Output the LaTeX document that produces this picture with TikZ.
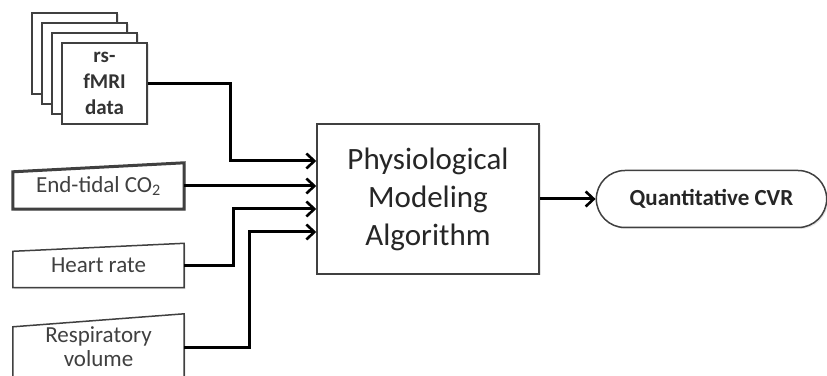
\documentclass[tikz,border=0pt]{standalone}
\usepackage{fontspec}
\setmainfont{Carlito}
\usetikzlibrary{arrows.meta,shapes.misc,shadows,backgrounds}

\tikzset{
  soft/.style={drop shadow={opacity=0.2, shadow xshift=1.5pt, shadow yshift=-1.5pt}},
  card/.style={draw=black!75, line width=1.5pt, fill=white, soft,
    minimum width=85pt, minimum height=81pt, inner sep=0pt,
    align=center, font=\fontsize{21}{26}\selectfont\bfseries, text=black!80},
  inbox/.style={minimum width=171pt, inner sep=0pt, align=center,
    font=\fontsize{23}{27}\selectfont, text=black!75},
  outline/.style={draw=black!75, line width=1.5pt, fill=white, soft},
  link/.style={draw=black, line width=3pt, -{Straight Barb[length=8pt,width=15pt,line width=2.6pt]}}
}

\begin{document}
\begin{tikzpicture}[x=1pt, y=1pt]
  \useasboundingbox (0,0) rectangle (827,375);

  % stack of fMRI volumes, back to front
  \foreach \i in {3,2,1}
    \node[card] (card\i) at ({104.5-10*\i},{291.5+10*\i}) {};
  \node[card] (fmri) at (104.5,291.5) {rs-\\fMRI\\data};

  % physiological inputs
  \node[inbox, minimum height=46pt] (etco2) at (98.5,189) {End-tidal CO\textsubscript{2}};
  \node[inbox, minimum height=44pt] (hr) at (98.5,109.5) {Heart rate};
  \node[inbox, minimum height=66pt] (rv) at (98.5,28) {Respiratory\\[-3pt]volume};

  % slanted tops of the input boxes
  \begin{scope}[on background layer]
    \draw[outline, line width=3pt] (etco2.south west) -- (etco2.south east) -- (etco2.north east)
      -- ([yshift=-9pt]etco2.north west) -- cycle;
    \draw[outline] (hr.south west) -- (hr.south east) -- (hr.north east)
      -- ([yshift=-8pt]hr.north west) -- cycle;
    \draw[outline] (rv.south west) -- (rv.south east) -- (rv.north east)
      -- ([yshift=-13pt]rv.north west) -- cycle;
  \end{scope}

  % model and result
  \node[draw=black!75, line width=1.5pt, fill=white, soft, minimum width=222pt, minimum height=150pt,
    align=center, font=\fontsize{31}{38}\selectfont, text=black!85] (algo) at (428,176)
    {Physiological\\Modeling\\Algorithm};
  \node[rounded rectangle, draw=black!75, line width=1.5pt, fill=white, soft,
    minimum width=237pt, minimum height=57pt, font=\fontsize{23}{26}\selectfont\bfseries,
    text=black!85] (cvr) at (711.5,176) {Quantitative CVR};

  % entry points on the model box
  \coordinate (in1) at ([yshift=38pt]algo.west);
  \coordinate (in2) at (algo.west |- etco2.east);
  \coordinate (in3) at ([yshift=-10pt]algo.west);
  \coordinate (in4) at ([yshift=-33pt]algo.west);

  \draw[link] (fmri.east) -- ++(83,0) |- (in1);
  \draw[link] (etco2.east) -- (in2);
  \draw[link] (hr.east) -- ++(49,0) |- (in3);
  \draw[link] (rv.east) -- ++(65,0) |- (in4);
  \draw[link] (algo.east) -- (cvr.west);
\end{tikzpicture}
\end{document}
